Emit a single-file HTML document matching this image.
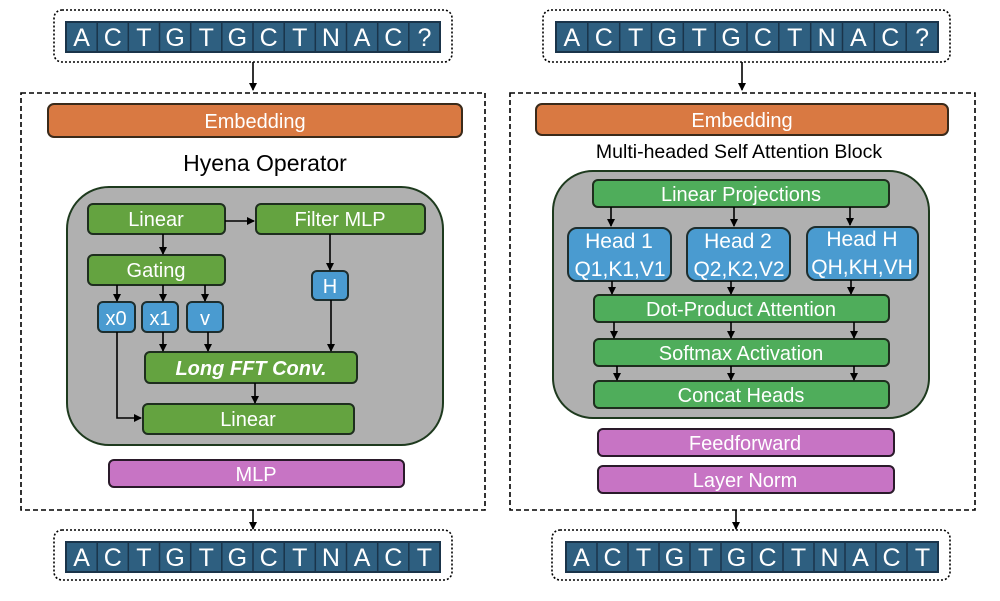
<!DOCTYPE html>
<html><head><meta charset="utf-8"><style>
body{margin:0;background:#fff}
text{font-family:"Liberation Sans",sans-serif;}
</style></head><body>
<svg width="1000" height="596" viewBox="0 0 1000 596" xmlns="http://www.w3.org/2000/svg">
<defs>
<marker id="a" markerWidth="8" markerHeight="8" refX="7" refY="4" orient="auto" markerUnits="userSpaceOnUse"><path d="M0,0 L8,4 L0,8 z" fill="#000"/></marker>
</defs>
<g fill="none" stroke="#000" stroke-width="1.6">
<rect x="54" y="10" width="398" height="52" rx="8" stroke-dasharray="2,2"/>
<rect x="543" y="10" width="407" height="52" rx="8" stroke-dasharray="2,2"/>
<rect x="54" y="530" width="398" height="50" rx="8" stroke-dasharray="2,2"/>
<rect x="552" y="530" width="398" height="50" rx="8" stroke-dasharray="2,2"/>
<rect x="21" y="93" width="464" height="417" stroke-dasharray="5,3"/>
<rect x="510" y="93" width="465" height="417" stroke-dasharray="5,3"/>
</g>
<g stroke="#1a344a" stroke-width="2" fill="#2e5f80">
<rect x="66" y="22" width="374" height="30"/>
<rect x="556" y="22" width="382" height="30"/>
<rect x="66" y="542" width="374" height="30"/>
<rect x="566" y="542" width="372" height="30"/>
</g>
<g stroke="#1a344a" stroke-width="1.5">
<path d="M97.2,22V52M128.3,22V52M159.5,22V52M190.7,22V52M221.8,22V52M253,22V52M284.2,22V52M315.3,22V52M346.5,22V52M377.7,22V52M408.8,22V52"/>
<path d="M587.8,22V52M619.7,22V52M651.5,22V52M683.3,22V52M715.2,22V52M747,22V52M778.8,22V52M810.7,22V52M842.5,22V52M874.3,22V52M906.2,22V52"/>
<path d="M97.2,542V572M128.3,542V572M159.5,542V572M190.7,542V572M221.8,542V572M253,542V572M284.2,542V572M315.3,542V572M346.5,542V572M377.7,542V572M408.8,542V572"/>
<path d="M597,542V572M628,542V572M659,542V572M690,542V572M721,542V572M752,542V572M783,542V572M814,542V572M845,542V572M876,542V572M907,542V572"/>
</g>
<g fill="#fff" font-size="25" text-anchor="middle">
<text y="46"><tspan x="81.6">A</tspan><tspan x="112.8">C</tspan><tspan x="143.9">T</tspan><tspan x="175.1">G</tspan><tspan x="206.3">T</tspan><tspan x="237.4">G</tspan><tspan x="268.6">C</tspan><tspan x="299.8">T</tspan><tspan x="330.9">N</tspan><tspan x="362.1">A</tspan><tspan x="393.3">C</tspan><tspan x="424.4">?</tspan></text>
<text y="46"><tspan x="571.9">A</tspan><tspan x="603.8">C</tspan><tspan x="635.6">T</tspan><tspan x="667.4">G</tspan><tspan x="699.3">T</tspan><tspan x="731.1">G</tspan><tspan x="762.9">C</tspan><tspan x="794.8">T</tspan><tspan x="826.6">N</tspan><tspan x="858.4">A</tspan><tspan x="890.3">C</tspan><tspan x="922.1">?</tspan></text>
<text y="566"><tspan x="81.6">A</tspan><tspan x="112.8">C</tspan><tspan x="143.9">T</tspan><tspan x="175.1">G</tspan><tspan x="206.3">T</tspan><tspan x="237.4">G</tspan><tspan x="268.6">C</tspan><tspan x="299.8">T</tspan><tspan x="330.9">N</tspan><tspan x="362.1">A</tspan><tspan x="393.3">C</tspan><tspan x="424.4">T</tspan></text>
<text y="566"><tspan x="581.5">A</tspan><tspan x="612.5">C</tspan><tspan x="643.5">T</tspan><tspan x="674.5">G</tspan><tspan x="705.5">T</tspan><tspan x="736.5">G</tspan><tspan x="767.5">C</tspan><tspan x="798.5">T</tspan><tspan x="829.5">N</tspan><tspan x="860.5">A</tspan><tspan x="891.5">C</tspan><tspan x="922.5">T</tspan></text>
</g>
<g stroke="#3a2a1a" stroke-width="2">
<rect x="48" y="104" width="414" height="33" rx="6" fill="#d97942"/>
<rect x="536" y="104" width="412" height="31" rx="6" fill="#d97942"/>
</g>
<rect x="67" y="187" width="376" height="258" rx="42" fill="#b0b0b0" stroke="#1e3a1e" stroke-width="2"/>
<rect x="553" y="171" width="376" height="247" rx="40" fill="#b0b0b0" stroke="#1e3a1e" stroke-width="2"/>
<g stroke="#1e2e1e" stroke-width="2" fill="#64a340">
<rect x="88" y="204" width="137" height="30" rx="5"/>
<rect x="256" y="204" width="169" height="30" rx="5"/>
<rect x="88" y="255" width="137" height="30" rx="5"/>
<rect x="145" y="352" width="212" height="31" rx="5"/>
<rect x="143" y="404" width="211" height="30" rx="5"/>
</g>
<g stroke="#1e2e1e" stroke-width="2" fill="#4fad5b">
<rect x="593" y="180" width="296" height="27" rx="5"/>
<rect x="594" y="295" width="295" height="27" rx="5"/>
<rect x="594" y="339" width="295" height="27" rx="5"/>
<rect x="594" y="381" width="295" height="27" rx="5"/>
</g>
<g stroke="#1e2e2e" stroke-width="2" fill="#4a9bd0">
<rect x="312" y="271" width="36" height="29" rx="5"/>
<rect x="98" y="302" width="37" height="30" rx="5"/>
<rect x="142" y="302" width="36" height="30" rx="5"/>
<rect x="187" y="302" width="36" height="30" rx="5"/>
<rect x="568" y="228" width="103" height="53" rx="9"/>
<rect x="687" y="228" width="103" height="53" rx="9"/>
<rect x="807" y="227" width="111" height="53" rx="9"/>
</g>
<g stroke="#2a1a2a" stroke-width="2" fill="#c774c4">
<rect x="109" y="460" width="295" height="27" rx="5"/>
<rect x="598" y="429" width="296" height="27" rx="5"/>
<rect x="598" y="466" width="296" height="27" rx="5"/>
</g>
<g stroke="#000" stroke-width="1.6" fill="none" marker-end="url(#a)">
<path d="M253,62V90"/><path d="M742,62V90"/>
<path d="M253,510V529"/><path d="M736,510V529"/>
<path d="M225,221H254"/>
<path d="M163,234V254"/>
<path d="M330,234V270"/>
<path d="M117,285V301"/><path d="M163,285V301"/><path d="M205,285V301"/>
<path d="M163,332V351"/><path d="M208,332V351"/><path d="M331,300V351"/>
<path d="M255,383V403"/>
<path d="M117,332V418H141"/>
<path d="M611,207V226"/><path d="M734,207V226"/><path d="M850,207V225"/>
<path d="M612,281V294"/><path d="M731,281V294"/><path d="M851,280V294"/>
<path d="M614,322V338"/><path d="M731,322V338"/><path d="M854,322V338"/>
<path d="M617,366V380"/><path d="M731,366V380"/><path d="M854,366V380"/>
</g>
<g fill="#fff" font-size="20" text-anchor="middle">
<text x="255" y="128">Embedding</text>
<text x="742" y="127">Embedding</text>
<text x="156" y="226">Linear</text>
<text x="340" y="226">Filter MLP</text>
<text x="156" y="277">Gating</text>
<text x="330" y="293">H</text>
<text x="116" y="325">x0</text>
<text x="160" y="325">x1</text>
<text x="205" y="325">v</text>
<text x="251" y="375" font-weight="bold" font-style="italic">Long FFT Conv.</text>
<text x="248" y="426">Linear</text>
<text x="256" y="481">MLP</text>
<text x="741" y="201">Linear Projections</text>
<text x="619" y="248" font-size="21">Head 1</text><text x="620" y="276" font-size="21">Q1,K1,V1</text>
<text x="738" y="248" font-size="21">Head 2</text><text x="739" y="276" font-size="21">Q2,K2,V2</text>
<text x="862" y="246" font-size="21">Head H</text><text x="862" y="274" font-size="21">QH,KH,VH</text>
<text x="741" y="316">Dot-Product Attention</text>
<text x="741" y="360">Softmax Activation</text>
<text x="741" y="402">Concat Heads</text>
<text x="745" y="450">Feedforward</text>
<text x="745" y="487">Layer Norm</text>
</g>
<text x="265" y="171" font-size="23" text-anchor="middle" fill="#000">Hyena Operator</text>
<text x="739" y="158" font-size="19.5" text-anchor="middle" fill="#000">Multi-headed Self Attention Block</text>
</svg>
</body></html>
